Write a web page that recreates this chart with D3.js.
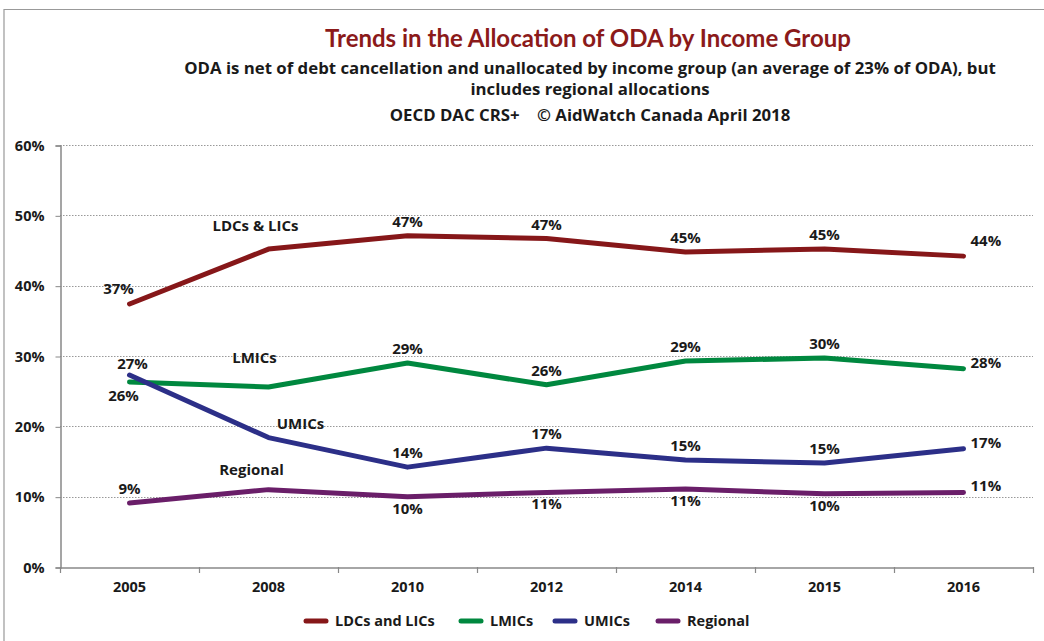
<!DOCTYPE html>
<html><head><meta charset="utf-8">
<script src="https://cdn.jsdelivr.net/npm/d3@7"></script>
<style>
html,body{margin:0;padding:0;background:#fff;}
svg text{font-family:"Open Sans",Lato,sans-serif;font-weight:bold;}
</style></head>
<body><svg id="c" width="1044" height="641"></svg>
<script>
const years = ["2005","2008","2010","2012","2014","2015","2016"];
const seriesNames = ["LDCs and LICs","LMICs","UMICs","Regional"];
const ldcs = [37.4, 45.2, 47.1, 46.7, 44.8, 45.2, 44.2];
const lmics = [26.3, 25.6, 29.0, 25.9, 29.3, 29.7, 28.2];
const umics = [27.3, 18.4, 14.2, 16.9, 15.2, 14.8, 16.8];
const regional = [9.1, 11.0, 10.0, 10.6, 11.1, 10.4, 10.6];
const yTicks = [0, 10, 20, 30, 40, 50, 60];
const inlineNames = ["LDCs & LICs","LMICs","UMICs","Regional"];
const titleText = "Trends in the Allocation of ODA by Income Group";
const subtitleLines = ["ODA is net of debt cancellation and unallocated by income group (an average of 23% of ODA), but",
  "includes regional allocations", "OECD DAC CRS+    \u00A9 AidWatch Canada April 2018"];

const colors = ["#861719","#00883F","#2C2F88","#6A1E69"];
// label placement per point: a=above, b=below, r=right, n=none
const place = [
  ["al","n","a","a","a","a","ru"],
  ["bl","n","a","a","a","a","r"],
  ["ar","n","a","a","a","a","r"],
  ["a","n","b","b","b","b","r"]
];
const allSeries = [ldcs, lmics, umics, regional];

const svg = d3.select("#c");
const L = 60, R = 1033, T = 145, B = 567;
const x = d3.scaleBand().domain(years).range([L, R]);
const y = d3.scaleLinear().domain([0, 60]).range([B, T]);

// border
svg.append("path").attr("d", `M4,641 L4,9.5 L1044,9.5`).attr("fill","none").attr("stroke","#999").attr("stroke-width",1.2);

// titles
svg.append("text").attr("x",588).attr("y",47).attr("text-anchor","middle")
  .attr("fill","#8B1A1A").style("font-size","24px").style("font-family","Lato").text(titleText);
const subY = [74, 95, 121];
subtitleLines.forEach((s,i)=>{
  svg.append("text").attr("x",590).attr("y",subY[i]).attr("text-anchor","middle")
    .attr("fill","#1a1a1a").style("font-size","16.8px").attr("xml:space","preserve").text(s);
});

// gridlines
svg.append("g").selectAll("line").data(yTicks.filter(d=>d>0)).join("line")
  .attr("x1",L).attr("x2",R).attr("y1",d=>Math.round(y(d))+0.5).attr("y2",d=>Math.round(y(d))+0.5)
  .attr("stroke","#999").attr("stroke-width",1).attr("stroke-dasharray","1.5,1.5");

// y axis
const yAxis = d3.axisLeft(y).tickValues(yTicks).tickSize(5).tickFormat(d=>d+"%");
const gy = svg.append("g").attr("transform",`translate(${L+0.5},0.5)`).call(yAxis);
gy.select(".domain").attr("stroke","#888").attr("stroke-width",1.5);
gy.selectAll(".tick line").attr("stroke","#888");
gy.selectAll(".tick text").attr("x",-16).attr("fill","#1a1a1a").style("font-size","14.5px").style("font-family","Open Sans");

// x axis
const xAxis = d3.axisBottom(x).tickSize(0);
const gx = svg.append("g").attr("transform",`translate(0,${B+0.5})`).call(xAxis);
gx.select(".domain").attr("stroke","#888").attr("stroke-width",1.5);
gx.selectAll(".tick text").attr("dy","1.5em").attr("fill","#1a1a1a").style("font-size","14.5px").style("font-family","Open Sans");
// boundary ticks
const bounds = years.map(d=>x(d)).concat([x(years[years.length-1])+x.bandwidth()]);
svg.append("g").selectAll("line").data(bounds).join("line")
  .attr("x1",d=>Math.round(d)+0.5).attr("x2",d=>Math.round(d)+0.5).attr("y1",B).attr("y2",B+6)
  .attr("stroke","#888").attr("stroke-width",1.2);

const cx = d => x(d) + x.bandwidth()/2;
const line = d3.line().x((d,i)=>cx(years[i])).y(d=>y(d));

allSeries.forEach((vals,si)=>{
  svg.append("path").datum(vals).attr("d",line).attr("fill","none")
    .attr("stroke",colors[si]).attr("stroke-width",5).attr("stroke-linejoin","round").attr("stroke-linecap","round");
});

// data labels
allSeries.forEach((vals,si)=>{
  vals.forEach((v,i)=>{
    const p = place[si][i];
    if (p==="n") return;
    let lx = cx(years[i]), ly = y(v), anchor="middle";
    if (p==="a") ly -= 9;
    else if (p==="b") ly += 17;
    else if (p==="al") { lx -= 11; ly -= 10; }
    else if (p==="ar") { lx += 3; ly -= 6; }
    else if (p==="bl") { lx -= 6; ly += 19; }
    else if (p==="r") { lx += 7; ly -= 1; anchor="start"; }
    else if (p==="ru") { lx += 7; ly -= 10; anchor="start"; }
    svg.append("text").attr("x",lx).attr("y",ly).attr("text-anchor",anchor)
      .attr("fill","#1a1a1a").style("font-size","15px").text(Math.round(v)+"%");
  });
});

// inline series names near 2008 points
const nameOffsets = [[-13,-18],[-14,-24],[32,-9],[-17,-15]];
inlineNames.forEach((n,si)=>{
  const v = allSeries[si][1];
  svg.append("text").attr("x",cx(years[1])+nameOffsets[si][0]).attr("y",y(v)+nameOffsets[si][1])
    .attr("text-anchor","middle").attr("fill","#1a1a1a").style("font-size","15px").text(n);
});

// legend
const legX = [304, 459, 553, 656];
seriesNames.forEach((n,si)=>{
  const g = svg.append("g").attr("transform",`translate(${legX[si]},621)`);
  g.append("line").attr("x1",2).attr("x2",22).attr("y1",0).attr("y2",0)
    .attr("stroke",colors[si]).attr("stroke-width",5).attr("stroke-linecap","round");
  g.append("text").attr("x",31).attr("y",5).attr("fill","#1a1a1a").style("font-size","14.5px").text(n);
});
</script></body></html>
